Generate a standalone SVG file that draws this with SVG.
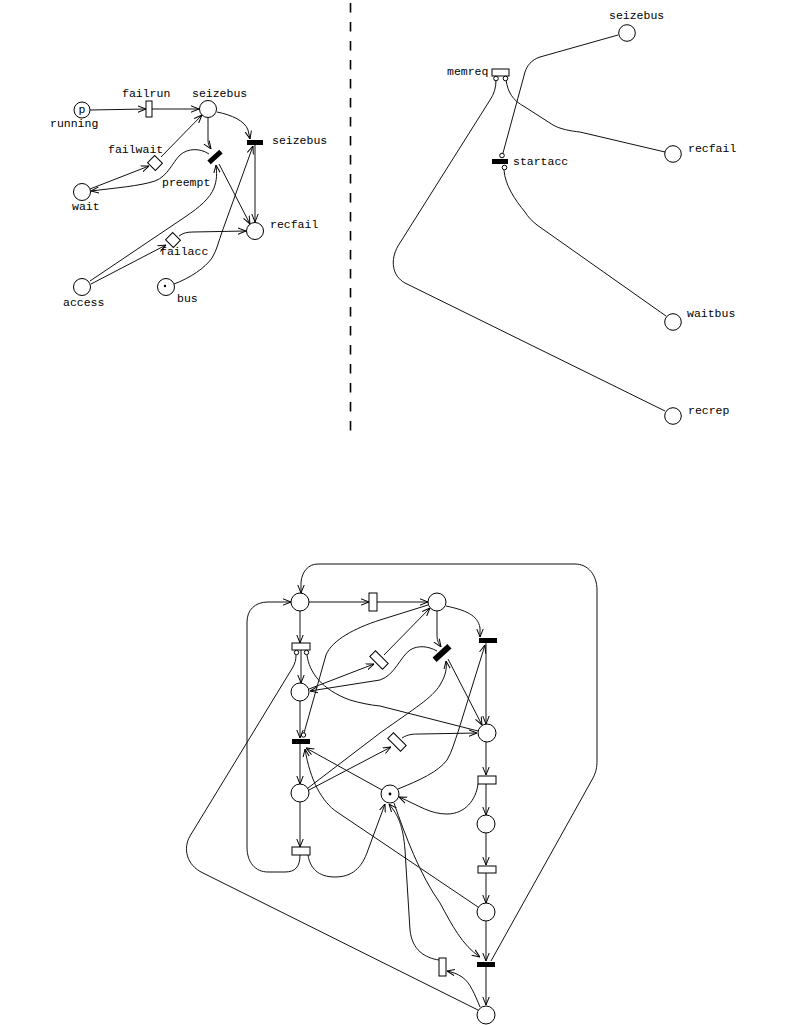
<svg xmlns="http://www.w3.org/2000/svg" width="791" height="1025" viewBox="0 0 791 1025">
<style>
.pl{fill:#fff;stroke:#000;stroke-width:1}
.tr{fill:#fff;stroke:#000;stroke-width:1}
.bar{fill:#000;stroke:none}
.arc{fill:none;stroke:#111;stroke-width:1;marker-end:url(#ah)}
.ln{fill:none;stroke:#111;stroke-width:1}
.lbl{font-family:"Liberation Mono",monospace;font-size:11.5px;fill:#000}
</style>
<defs>
<marker id="ah" viewBox="0 0 8 8" refX="8" refY="4" markerWidth="8" markerHeight="8" markerUnits="userSpaceOnUse" orient="auto"><path d="M0,0.8 L8,4 L0,7.2" fill="none" stroke="#000" stroke-width="1"/></marker>
</defs>
<rect width="791" height="1025" fill="#fff"/>

<!-- divider -->
<line x1="350.5" y1="3" x2="350.5" y2="432" stroke="#000" stroke-width="1.6" stroke-dasharray="9.5,9.5"/>

<!-- ===== TOP-LEFT PANEL ===== -->
<g id="tl-connectors">
<path class="arc" d="M90,110 L146,109"/>
<path class="arc" d="M152,109 L199,109"/>
<path class="arc" d="M90,189 L149,166"/>
<path class="arc" d="M161,157 L202,115"/>
<path class="arc" d="M209,154 C200,148 188,148 180,155 C172,163 168,176 155,181 C140,186 115,188 91,191"/>
<path class="arc" d="M208,118 L208,140 C208,144 209,146 211,149"/>
<path class="arc" d="M217,112 C232,115 245,121 248,130 L250,139"/>
<path class="arc" d="M255,145 L255,222"/>
<path class="arc" d="M219,164 L250,224"/>
<path class="arc" d="M90,281 L185,217 C200,207 210,198 214,188 C217,180 217,173 216,165"/>
<path class="arc" d="M91,284 L166,245"/>
<path class="arc" d="M179,236 C183,233 187,232 193,232 L246,231"/>
<path class="arc" d="M174,284 C190,278 205,268 212,258 C217,250 219,240 222,232 L253,146"/>
</g>
<g id="tl-running"><circle class="pl" cx="82" cy="110" r="8"/><text class="lbl" x="82" y="113" text-anchor="middle" font-size="10">p</text><text class="lbl" x="50" y="127">running</text></g>
<g id="tl-failrun"><rect class="tr" x="146" y="101" width="6" height="16"/><text class="lbl" x="122" y="97">failrun</text></g>
<g id="tl-seizebus"><circle class="pl" cx="208" cy="109" r="8.5"/><text class="lbl" x="192" y="97">seizebus</text></g>
<g id="tl-failwait"><rect class="tr" x="-5.5" y="-5" width="11" height="10" transform="translate(155,163) rotate(45)"/><text class="lbl" x="108" y="153">failwait</text></g>
<g id="tl-wait"><circle class="pl" cx="82" cy="192" r="8.5"/><text class="lbl" x="72" y="210">wait</text></g>
<g id="tl-preempt"><rect class="bar" x="-8" y="-2.5" width="16" height="5" transform="translate(215,157) rotate(-42)"/><text class="lbl" x="162" y="186">preempt</text></g>
<g id="tl-seizebus-t"><rect class="bar" x="247" y="140" width="16" height="5"/><text class="lbl" x="272" y="144">seizebus</text></g>
<g id="tl-recfail"><circle class="pl" cx="255" cy="231" r="8.5"/><text class="lbl" x="270" y="228">recfail</text></g>
<g id="tl-failacc"><rect class="tr" x="-5.5" y="-5" width="11" height="10" transform="translate(173,240) rotate(45)"/><text class="lbl" x="160" y="255">failacc</text></g>
<g id="tl-access"><circle class="pl" cx="82" cy="287" r="8.5"/><text class="lbl" x="63" y="306">access</text></g>
<g id="tl-bus"><circle class="pl" cx="166" cy="287" r="8.5"/><circle cx="165" cy="286" r="1.2" fill="#000"/><text class="lbl" x="177" y="302">bus</text></g>

<!-- ===== TOP-RIGHT PANEL ===== -->
<g id="tr-connectors">
<path class="ln" d="M618,35 L540,57 C531,60 527,66 525,72 L503,153"/>
<path class="ln" d="M506,80 C508,92 512,100 525,107 L553,125 C560,129 570,131 580,132 L665,152"/>
<path class="ln" d="M496,80 C496,88 494,94 490,100 L398,246 C390,260 392,276 405,283 L665,411"/>
<path class="ln" d="M504,170 C505,185 515,200 525,212 C528,217 532,221 537,225 L666,316"/>
</g>
<g id="tr-seizebus"><circle class="pl" cx="627" cy="33" r="8.3"/><text class="lbl" x="609" y="19">seizebus</text></g>
<g id="tr-memreq"><rect class="tr" x="492" y="69" width="17" height="7"/><circle class="pl" cx="496" cy="78.5" r="2.3"/><circle class="pl" cx="505.5" cy="78.5" r="2.3"/><text class="lbl" x="447" y="75">memreq</text></g>
<g id="tr-recfail"><circle class="pl" cx="673" cy="154" r="8.3"/><text class="lbl" x="688" y="152">recfail</text></g>
<g id="tr-startacc"><rect class="bar" x="492" y="159" width="16" height="5"/><circle class="pl" cx="502" cy="155.5" r="2.3"/><circle class="pl" cx="504.5" cy="167.5" r="2.3"/><text class="lbl" x="513" y="165">startacc</text></g>
<g id="tr-waitbus"><circle class="pl" cx="673" cy="322" r="8.3"/><text class="lbl" x="687" y="317">waitbus</text></g>
<g id="tr-recrep"><circle class="pl" cx="673" cy="416" r="8.3"/><text class="lbl" x="688" y="414">recrep</text></g>

<!-- ===== BOTTOM PANEL ===== -->
<g id="b-connectors">
<path class="arc" d="M309,602 L369,602"/>
<path class="arc" d="M377,602 L428,602"/>
<path class="arc" d="M300,611 L300,643"/>
<path class="arc" d="M301,650 L301,683"/>
<path class="arc" d="M300,701 L300,738"/>
<path class="arc" d="M300,744 L300,784"/>
<path class="arc" d="M300,802 L300,847"/>
<path class="arc" d="M300,855 C300,867 295,872 285,872 L268,872 C255,872 247,862 247,847 L247,622 C247,610 255,602 268,602 L291,602"/>
<path class="arc" d="M308,855 C310,868 318,877 335,877 C352,877 362,868 368,850 L385,804"/>
<path class="arc" d="M491,961 L593,778 C596,772 597,768 597,760 L597,590 C597,575 588,564 575,564 L318,564 C308,564 302,572 301,582 L301,593"/>
<path class="ln" d="M296,655 C296,660 295,663 293,667 L190,836 C183,848 186,865 203,873 L478,1010"/>
<path class="ln" d="M307,655 C309,672 322,690 350,700 C360,703 370,705 380,706 L478,731"/>
<path class="ln" d="M428,605 L380,620 C355,628 332,640 326,655 L304,733"/>
<path class="arc" d="M309,689 L374,664"/>
<path class="arc" d="M384,655 L430,608"/>
<path class="arc" d="M437,651 C428,646 418,645 410,650 C400,657 395,675 380,680 L310,691"/>
<path class="arc" d="M437,611 L437,636 C437,641 439,644 441,647"/>
<path class="arc" d="M446,606 C465,610 478,615 480,628 L480,637"/>
<path class="arc" d="M486,643 L486,724"/>
<path class="arc" d="M448,659 L482,725"/>
<path class="arc" d="M308,788 L380,733 C415,708 432,698 440,685 C446,675 447,668 446,661"/>
<path class="arc" d="M309,790 L391,747"/>
<path class="arc" d="M402,738 C408,734 414,734 420,734 L477,733"/>
<path class="arc" d="M398,789 C420,780 438,772 447,760 C452,752 455,740 458,732 L485,645"/>
<path class="arc" d="M486,742 L486,775"/>
<path class="arc" d="M478,784 C476,800 465,814 447,814 C430,814 420,806 399,797"/>
<path class="arc" d="M486,784 L486,815"/>
<path class="arc" d="M486,833 L486,865"/>
<path class="arc" d="M486,873 L486,903"/>
<path class="arc" d="M486,921 L486,961"/>
<path class="arc" d="M478,907 L337,812 C322,802 310,780 305,749"/>
<path class="arc" d="M382,790 L306,748"/>
<path class="arc" d="M394,803 C405,835 420,875 440,903 C452,925 462,945 480,957"/>
<path class="arc" d="M439,960 C425,958 412,950 410,930 L405,850 C403,825 398,815 389,804"/>
<path class="arc" d="M480,1007 C475,995 470,982 462,977 C458,974 452,972 447,971"/>
<path class="arc" d="M486,967 L486,1005"/>
</g>
<g id="b-running"><circle class="pl" cx="300" cy="602" r="9"/></g>
<g id="b-failrun"><rect class="tr" x="369" y="593" width="8" height="18"/></g>
<g id="b-seizebus"><circle class="pl" cx="437" cy="602" r="9"/></g>
<g id="b-memreq"><rect class="tr" x="292" y="643" width="18" height="7"/><circle class="pl" cx="296.5" cy="652.5" r="2.2"/><circle class="pl" cx="306.5" cy="652.5" r="2.2"/></g>
<g id="b-failwait"><rect class="tr" x="-9" y="-4" width="18" height="8" transform="translate(379,660) rotate(45)"/></g>
<g id="b-preempt"><rect class="bar" x="-10" y="-3" width="20" height="6" transform="translate(442,653) rotate(-42)"/></g>
<g id="b-seizebus-t"><rect class="bar" x="479" y="638" width="18" height="5"/></g>
<g id="b-wait"><circle class="pl" cx="300" cy="692" r="9"/></g>
<g id="b-recfail"><circle class="pl" cx="487" cy="733" r="9"/></g>
<g id="b-startacc"><rect class="bar" x="292" y="739" width="18" height="5"/><circle class="pl" cx="303.5" cy="735" r="2.2"/></g>
<g id="b-failacc"><rect class="tr" x="-9" y="-4" width="18" height="8" transform="translate(397,742) rotate(45)"/></g>
<g id="b-access"><circle class="pl" cx="300" cy="793" r="9"/></g>
<g id="b-bus"><circle class="pl" cx="390" cy="794" r="9"/><circle cx="390" cy="794" r="1.4" fill="#000"/></g>
<g id="b-t8"><rect class="tr" x="292" y="847" width="18" height="8"/></g>
<g id="b-t9"><rect class="tr" x="478" y="776" width="18" height="8"/></g>
<g id="b-p7"><circle class="pl" cx="486" cy="824" r="9"/></g>
<g id="b-t10"><rect class="tr" x="478" y="866" width="18" height="7"/></g>
<g id="b-waitbus"><circle class="pl" cx="486" cy="912" r="9"/></g>
<g id="b-t11"><rect class="bar" x="477" y="962" width="18" height="5"/></g>
<g id="b-t12"><rect class="tr" x="439" y="958" width="7" height="18"/></g>
<g id="b-recrep"><circle class="pl" cx="486" cy="1015" r="9"/></g>
</svg>
